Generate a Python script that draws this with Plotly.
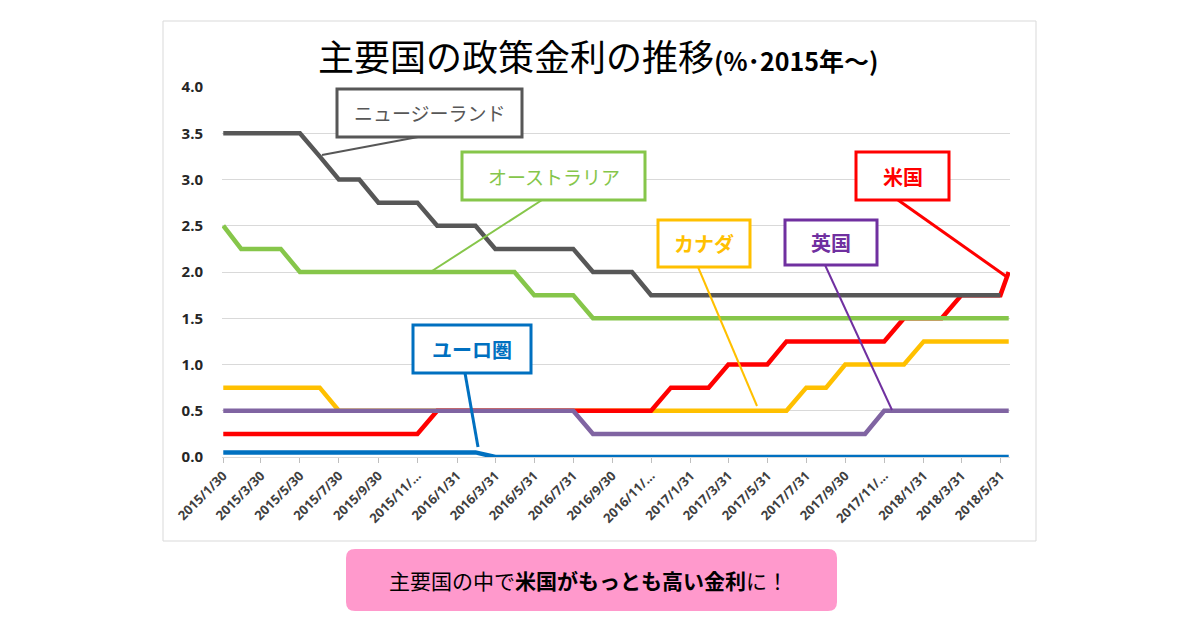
import plotly.graph_objects as go

# ---------------- data ----------------
dates = [
    "2015-01-30", "2015-02-27", "2015-03-30", "2015-04-30", "2015-05-30", "2015-06-30",
    "2015-07-30", "2015-08-31", "2015-09-30", "2015-10-30", "2015-11-30", "2015-12-31",
    "2016-01-31", "2016-02-29", "2016-03-31", "2016-04-30", "2016-05-31", "2016-06-30",
    "2016-07-31", "2016-08-31", "2016-09-30", "2016-10-31", "2016-11-30", "2016-12-31",
    "2017-01-31", "2017-02-28", "2017-03-31", "2017-04-30", "2017-05-31", "2017-06-30",
    "2017-07-31", "2017-08-31", "2017-09-30", "2017-10-31", "2017-11-30", "2017-12-31",
    "2018-01-31", "2018-02-28", "2018-03-31", "2018-04-30", "2018-05-31", "2018-06-13",
]

tick_dates = [
    "2015-01-30", "2015-03-30", "2015-05-30", "2015-07-30", "2015-09-30", "2015-11-30",
    "2016-01-31", "2016-03-31", "2016-05-31", "2016-07-31", "2016-09-30", "2016-11-30",
    "2017-01-31", "2017-03-31", "2017-05-31", "2017-07-31", "2017-09-30", "2017-11-30",
    "2018-01-31", "2018-03-31", "2018-05-31",
]
tick_labels = [
    "2015/1/30", "2015/3/30", "2015/5/30", "2015/7/30", "2015/9/30", "2015/11/…",
    "2016/1/31", "2016/3/31", "2016/5/31", "2016/7/31", "2016/9/30", "2016/11/…",
    "2017/1/31", "2017/3/31", "2017/5/31", "2017/7/31", "2017/9/30", "2017/11/…",
    "2018/1/31", "2018/3/31", "2018/5/31",
]

nz = [3.5, 3.5, 3.5, 3.5, 3.5, 3.25, 3.0, 3.0, 2.75, 2.75, 2.75, 2.5,
      2.5, 2.5, 2.25, 2.25, 2.25, 2.25, 2.25, 2.0, 2.0, 2.0, 1.75, 1.75,
      1.75, 1.75, 1.75, 1.75, 1.75, 1.75, 1.75, 1.75, 1.75, 1.75, 1.75, 1.75,
      1.75, 1.75, 1.75, 1.75, 1.75]
au = [2.5, 2.25, 2.25, 2.25, 2.0, 2.0, 2.0, 2.0, 2.0, 2.0, 2.0, 2.0,
      2.0, 2.0, 2.0, 2.0, 1.75, 1.75, 1.75, 1.5, 1.5, 1.5, 1.5, 1.5,
      1.5, 1.5, 1.5, 1.5, 1.5, 1.5, 1.5, 1.5, 1.5, 1.5, 1.5, 1.5,
      1.5, 1.5, 1.5, 1.5, 1.5, 1.5]
us = [0.25, 0.25, 0.25, 0.25, 0.25, 0.25, 0.25, 0.25, 0.25, 0.25, 0.25, 0.5,
      0.5, 0.5, 0.5, 0.5, 0.5, 0.5, 0.5, 0.5, 0.5, 0.5, 0.5, 0.75,
      0.75, 0.75, 1.0, 1.0, 1.0, 1.25, 1.25, 1.25, 1.25, 1.25, 1.25, 1.5,
      1.5, 1.5, 1.75, 1.75, 1.75, 2.0]
ca = [0.75, 0.75, 0.75, 0.75, 0.75, 0.75, 0.5, 0.5, 0.5, 0.5, 0.5, 0.5,
      0.5, 0.5, 0.5, 0.5, 0.5, 0.5, 0.5, 0.5, 0.5, 0.5, 0.5, 0.5,
      0.5, 0.5, 0.5, 0.5, 0.5, 0.5, 0.75, 0.75, 1.0, 1.0, 1.0, 1.0,
      1.25, 1.25, 1.25, 1.25, 1.25, 1.25]
uk = [0.5, 0.5, 0.5, 0.5, 0.5, 0.5, 0.5, 0.5, 0.5, 0.5, 0.5, 0.5,
      0.5, 0.5, 0.5, 0.5, 0.5, 0.5, 0.5, 0.25, 0.25, 0.25, 0.25, 0.25,
      0.25, 0.25, 0.25, 0.25, 0.25, 0.25, 0.25, 0.25, 0.25, 0.25, 0.5, 0.5,
      0.5, 0.5, 0.5, 0.5, 0.5, 0.5]
eu = [0.05, 0.05, 0.05, 0.05, 0.05, 0.05, 0.05, 0.05, 0.05, 0.05, 0.05, 0.05,
      0.05, 0.05, 0.0, 0.0, 0.0, 0.0, 0.0, 0.0, 0.0, 0.0, 0.0, 0.0,
      0.0, 0.0, 0.0, 0.0, 0.0, 0.0, 0.0, 0.0, 0.0, 0.0, 0.0, 0.0,
      0.0, 0.0, 0.0, 0.0, 0.0, 0.0]

# ---------------- styles ----------------
C_NZ = "#575757"
C_AU = "#86C64A"
C_US = "#FF0000"
C_CA = "#FFC000"
C_UK = "#8064A2"
C_UK_BOX = "#7030A0"
C_EU = "#0070C0"
JP = "Noto Sans CJK JP"

# page offset of the figure inside the browser (default body margin)
OX, OY = 8, 8
W, H = 1200, 630
# plot area in screen pixels: x 222..1010, y 87..457
L, R, T, B = 222 - OX, W - (1010 - OX), 87 - OY, H - (457 - OY)
PW, PH = W - L - R, H - T - B


def px(x):
    return (x - OX - L) / PW


def py(y):
    return (H - B - (y - OY)) / PH


fig = go.Figure()

series = [
    ("ユーロ圏", dates, eu, C_EU),
    ("カナダ", dates, ca, C_CA),
    ("米国", dates, us, C_US),
    ("英国", dates, uk, C_UK),
    ("オーストラリア", dates, au, C_AU),
    ("ニュージーランド", dates[:len(nz)], nz, C_NZ),
]
for name, xs, ys, col in series:
    fig.add_trace(go.Scatter(x=xs, y=ys, mode="lines", name=name,
                             line=dict(color=col, width=4.5), showlegend=False))

shapes = []
annotations = []

# outer chart frame
shapes.append(dict(type="rect", xref="paper", yref="paper",
                   x0=px(163), x1=px(1036), y0=py(541), y1=py(21),
                   line=dict(color="#D9D9D9", width=1), layer="below"))

# callouts: (text, color, box(x0,y0,x1,y1), leader((xa,ya),(xb,yb)), leader width, size, bold)
callouts = [
    ("ニュージーランド", C_NZ, (337, 89, 522, 137), ((418, 137), (322, 155)), 2, 19, False),
    ("オーストラリア", C_AU, (462, 152, 645, 200), ((542, 200), (432, 271)), 2, 19, False),
    ("米国", C_US, (856, 152, 949, 200), ((898, 200), (1007, 277)), 3, 20, True),
    ("カナダ", C_CA, (658, 220, 750, 267), ((698, 267), (757, 406)), 2, 20, True),
    ("英国", C_UK_BOX, (785, 220, 877, 265), ((825, 265), (892, 410)), 2, 20, True),
    ("ユーロ圏", C_EU, (413, 325, 531, 373), ((465, 373), (478, 447)), 3, 20, True),
]
for text, col, (bx0, by0, bx1, by1), ((ax, ay), (bx, by)), lw, size, bold in callouts:
    shapes.append(dict(type="line", xref="paper", yref="paper",
                       x0=px(ax), y0=py(ay), x1=px(bx), y1=py(by),
                       line=dict(color=col, width=lw), layer="above"))
    shapes.append(dict(type="rect", xref="paper", yref="paper",
                       x0=px(bx0), x1=px(bx1), y0=py(by1), y1=py(by0),
                       line=dict(color=col, width=3), fillcolor="white", layer="above"))
    annotations.append(dict(xref="paper", yref="paper",
                            x=px((bx0 + bx1) / 2), y=py((by0 + by1) / 2),
                            text=f"<b>{text}</b>" if bold else text,
                            showarrow=False, xanchor="center", yanchor="middle",
                            font=dict(family=JP, size=size, color=col)))

# title
annotations.append(dict(xref="paper", yref="paper", x=px(598), y=py(55),
                        xanchor="center", yanchor="middle", showarrow=False,
                        text="主要国の政策金利の推移<span style='font-size:25px'><b>(%･2015年～)</b></span>",
                        font=dict(family=JP, size=36, color="#000000")))

# pink note box with rounded corners
x0p, x1p, y0p, y1p, r = 346, 837, 549, 611, 9
pts = [
    ("M", [(x0p + r, y0p)]),
    ("L", [(x1p - r, y0p)]),
    ("Q", [(x1p, y0p), (x1p, y0p + r)]),
    ("L", [(x1p, y1p - r)]),
    ("Q", [(x1p, y1p), (x1p - r, y1p)]),
    ("L", [(x0p + r, y1p)]),
    ("Q", [(x0p, y1p), (x0p, y1p - r)]),
    ("L", [(x0p, y0p + r)]),
    ("Q", [(x0p, y0p), (x0p + r, y0p)]),
]
path = " ".join(cmd + " " + " ".join(f"{px(a):.5f},{py(b):.5f}" for a, b in p) for cmd, p in pts) + " Z"
shapes.append(dict(type="path", xref="paper", yref="paper", path=path,
                   fillcolor="#FF99CC", line=dict(width=0), layer="above"))
annotations.append(dict(xref="paper", yref="paper", x=px((x0p + x1p) / 2 - 3), y=py(580),
                        xanchor="center", yanchor="middle", showarrow=False,
                        text="主要国の中で<b>米国がもっとも高い金利</b>に！",
                        font=dict(family=JP, size=21, color="#000000")))

fig.update_layout(
    width=W, height=H,
    margin=dict(l=L, r=R, t=T, b=B, pad=0),
    paper_bgcolor="white", plot_bgcolor="white",
    shapes=shapes, annotations=annotations,
    showlegend=False,
)
fig.update_xaxes(
    type="date", range=["2015-01-28", "2018-06-15"],
    tickmode="array", tickvals=tick_dates, ticktext=tick_labels,
    tickangle=-45, ticks="outside", ticklen=5, tickcolor="#BFBFBF",
    showgrid=False, showline=True, linecolor="#D9D9D9", linewidth=1,
    tickfont=dict(family="Open Sans", size=13, color="#404040", weight="bold"),
    fixedrange=True,
)
fig.update_yaxes(
    range=[0, 4], dtick=0.5, tick0=0, tickformat=".1f",
    showgrid=True, gridcolor="#D9D9D9", gridwidth=1,
    zeroline=False, showline=False, ticks="",
    ticklabelstandoff=18,
    tickfont=dict(family="Open Sans", size=15, color="#262626", weight="bold"),
    fixedrange=True,
)

fig.write_html("out.html")
